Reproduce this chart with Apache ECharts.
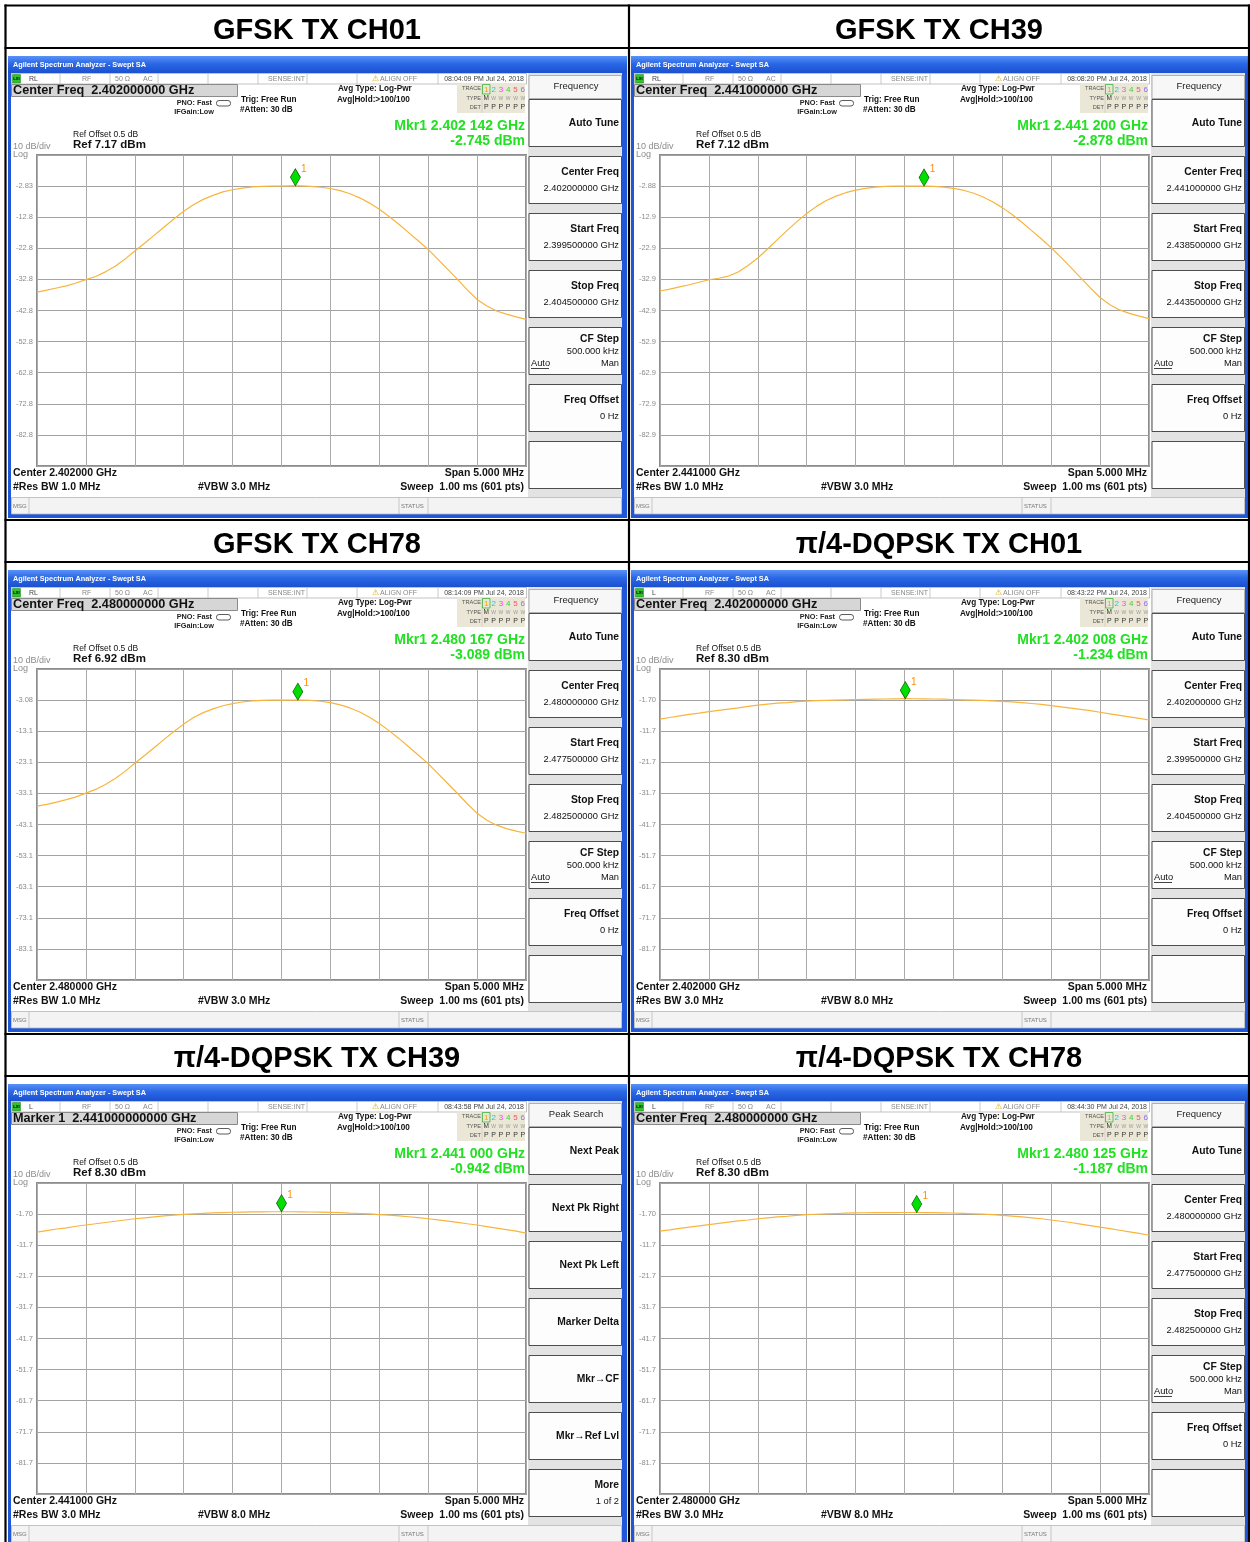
<!DOCTYPE html>
<html><head><meta charset="utf-8">
<script src="https://cdn.jsdelivr.net/npm/echarts@6/dist/echarts.min.js"></script>
<style>html,body{margin:0;padding:0;background:#fff}#c{width:1250px;height:1542px}</style>
</head><body><div id="c"></div>
<script>
// ---------- DATA ----------
const panelTitles = ['GFSK TX CH01','GFSK TX CH39','GFSK TX CH78','π/4-DQPSK TX CH01','π/4-DQPSK TX CH39','π/4-DQPSK TX CH78'];
const headerTexts = ['Center Freq  2.402000000 GHz','Center Freq  2.441000000 GHz','Center Freq  2.480000000 GHz','Center Freq  2.402000000 GHz','Marker 1  2.441000000000 GHz','Center Freq  2.480000000 GHz'];
const inputModes = ['RL','RL','RL','L','L','L'];
const timeStamps = ['08:04:09 PM Jul 24, 2018','08:08:20 PM Jul 24, 2018','08:14:09 PM Jul 24, 2018','08:43:22 PM Jul 24, 2018','08:43:58 PM Jul 24, 2018','08:44:30 PM Jul 24, 2018'];
const refLevels = [7.17, 7.12, 6.92, 8.30, 8.30, 8.30];
const refTexts = ['Ref 7.17 dBm','Ref 7.12 dBm','Ref 6.92 dBm','Ref 8.30 dBm','Ref 8.30 dBm','Ref 8.30 dBm'];
const yTicksGfskCh01 = ['-2.83','-12.8','-22.8','-32.8','-42.8','-52.8','-62.8','-72.8','-82.8'];
const yTicksGfskCh39 = ['-2.88','-12.9','-22.9','-32.9','-42.9','-52.9','-62.9','-72.9','-82.9'];
const yTicksGfskCh78 = ['-3.08','-13.1','-23.1','-33.1','-43.1','-53.1','-63.1','-73.1','-83.1'];
const yTicksDqpsk = ['-1.70','-11.7','-21.7','-31.7','-41.7','-51.7','-61.7','-71.7','-81.7'];
const markerTexts = ['Mkr1 2.402 142 GHz','Mkr1 2.441 200 GHz','Mkr1 2.480 167 GHz','Mkr1 2.402 008 GHz','Mkr1 2.441 000 GHz','Mkr1 2.480 125 GHz'];
const markerLevelTexts = ['-2.745 dBm','-2.878 dBm','-3.089 dBm','-1.234 dBm','-0.942 dBm','-1.187 dBm'];
const markerOffsetKHz = [2642, 2700, 2667, 2508, 2500, 2625];
const markerLevels = [-2.745, -2.878, -3.089, -1.234, -0.942, -1.187];
const centerTexts = ['Center 2.402000 GHz','Center 2.441000 GHz','Center 2.480000 GHz','Center 2.402000 GHz','Center 2.441000 GHz','Center 2.480000 GHz'];
const rbwTexts = ['#Res BW 1.0 MHz','#Res BW 1.0 MHz','#Res BW 1.0 MHz','#Res BW 3.0 MHz','#Res BW 3.0 MHz','#Res BW 3.0 MHz'];
const vbwTexts = ['#VBW 3.0 MHz','#VBW 3.0 MHz','#VBW 3.0 MHz','#VBW 8.0 MHz','#VBW 8.0 MHz','#VBW 8.0 MHz'];
const centerFreqKeys = ['2.402000000 GHz','2.441000000 GHz','2.480000000 GHz','2.402000000 GHz','2.441000000 GHz','2.480000000 GHz'];
const startFreqKeys = ['2.399500000 GHz','2.438500000 GHz','2.477500000 GHz','2.399500000 GHz','2.438500000 GHz','2.477500000 GHz'];
const stopFreqKeys = ['2.404500000 GHz','2.443500000 GHz','2.482500000 GHz','2.404500000 GHz','2.443500000 GHz','2.482500000 GHz'];
const spanKHz = 5000;
const traceStepKHz = 100;
// trace levels in dBm, one every 100 kHz from start to stop frequency
const trGfskCh01 = [-36.9,-36.3,-35.6,-34.9,-34.0,-32.9,-31.9,-30.4,-28.6,-26.3,-23.7,-21.2,-18.6,-16.0,-13.4,-10.9,-8.8,-7.1,-5.8,-4.7,-4.0,-3.5,-3.1,-2.95,-2.85,-2.8,-2.76,-2.75,-2.9,-3.2,-3.6,-4.3,-5.3,-6.6,-8.3,-10.3,-12.6,-15.1,-17.8,-20.5,-23.2,-26.4,-29.6,-32.8,-36.2,-39.3,-41.4,-43.0,-44.0,-44.9,-45.7];
const trGfskCh39 = [-36.6,-36.0,-35.3,-34.6,-33.8,-33.0,-32.5,-31.8,-30.5,-28.4,-26.0,-23.1,-20.1,-17.1,-14.3,-11.7,-9.4,-7.5,-6.1,-5.0,-4.2,-3.6,-3.2,-3.0,-2.92,-2.9,-2.88,-2.88,-2.95,-3.2,-3.6,-4.2,-5.1,-6.3,-7.9,-9.8,-12.0,-14.5,-17.2,-19.9,-22.7,-25.8,-29.0,-32.3,-35.6,-38.7,-41.0,-42.7,-43.8,-44.7,-45.5];
const trGfskCh78 = [-37.2,-36.6,-35.9,-35.1,-34.2,-33.0,-31.8,-30.2,-28.3,-26.0,-23.4,-20.9,-18.3,-15.7,-13.2,-10.8,-8.7,-7.1,-5.9,-4.9,-4.2,-3.7,-3.35,-3.2,-3.12,-3.1,-3.09,-3.09,-3.2,-3.45,-3.9,-4.6,-5.6,-6.9,-8.6,-10.6,-12.9,-15.4,-18.1,-20.8,-23.5,-26.7,-29.9,-33.1,-36.4,-39.5,-41.7,-43.3,-44.4,-45.2,-45.9];
const trDqpskCh01 = [-7.8,-7.3,-6.8,-6.3,-5.9,-5.4,-5.0,-4.6,-4.2,-3.7,-3.3,-3.0,-2.7,-2.5,-2.2,-2.0,-1.9,-1.8,-1.7,-1.6,-1.5,-1.45,-1.4,-1.35,-1.3,-1.24,-1.26,-1.3,-1.35,-1.4,-1.5,-1.6,-1.7,-1.8,-1.95,-2.1,-2.3,-2.5,-2.8,-3.1,-3.5,-3.9,-4.3,-4.7,-5.1,-5.6,-6.1,-6.6,-7.1,-7.6,-8.1];
const trDqpskCh39 = [-7.5,-7.0,-6.5,-6.1,-5.6,-5.2,-4.8,-4.4,-4.0,-3.6,-3.2,-2.9,-2.6,-2.3,-2.0,-1.8,-1.6,-1.45,-1.3,-1.2,-1.1,-1.05,-1.0,-0.97,-0.95,-0.94,-0.95,-0.98,-1.02,-1.08,-1.15,-1.25,-1.38,-1.5,-1.65,-1.85,-2.05,-2.3,-2.55,-2.85,-3.2,-3.55,-3.95,-4.35,-4.8,-5.2,-5.7,-6.2,-6.7,-7.2,-7.8];
const trDqpskCh78 = [-7.2,-6.8,-6.3,-5.9,-5.5,-5.1,-4.7,-4.3,-3.9,-3.6,-3.2,-2.9,-2.6,-2.4,-2.1,-1.9,-1.75,-1.6,-1.5,-1.4,-1.32,-1.27,-1.23,-1.21,-1.2,-1.19,-1.19,-1.2,-1.23,-1.28,-1.35,-1.45,-1.58,-1.72,-1.9,-2.1,-2.35,-2.6,-2.9,-3.2,-3.6,-4.0,-4.4,-4.9,-5.4,-5.9,-6.4,-6.9,-7.4,-7.9,-8.5];

const traces = [trGfskCh01, trGfskCh39, trGfskCh78, trDqpskCh01, trDqpskCh39, trDqpskCh78];
const yTickSets = [yTicksGfskCh01, yTicksGfskCh39, yTicksGfskCh78, yTicksDqpsk, yTicksDqpsk, yTicksDqpsk];

// ---------- LAYOUT ----------
const FONT = '"Liberation Sans", Arial, sans-serif';
const COLX = [8, 631];
const ROWY = [56, 570, 1084];
const TITLE_CX = [317, 939];
const TITLE_CY = [31, 545, 1059];
const traceColors = ['#ff9a00','#17c7f0','#ff3dff','#3ccf3c','#ff4c6e','#8a6cff'];

let zc = -400;
const els = [];
function R(x,y,w,h,fill,stroke,lw,r){ els.push({type:'rect', z:(zc+=0.5), silent:true, shape:{x:x,y:y,width:w,height:h,r:r||0}, style:{fill:fill||'none', stroke:stroke||null, lineWidth:lw||1}}); }
function L(x1,y1,x2,y2,stroke,lw,z){ els.push({type:'line', z:(z!=null?z:(zc+=0.5)), silent:true, shape:{x1:x1,y1:y1,x2:x2,y2:y2}, style:{stroke:stroke, lineWidth:lw||1}}); }
function T(x,y,text,size,color,align,bold){ els.push({type:'text', z:20, silent:true, x:x, y:y, style:{text:text, font:(bold?'bold ':'')+size+'px '+FONT, fill:color||'#000', textAlign:align||'left', textVerticalAlign:'middle'}}); }

function panel(i){
  const ox = COLX[i%2], oy = ROWY[Math.floor(i/2)];
  const r = (x,y,w,h,f,s,lw,rr)=>R(ox+x,oy+y,w,h,f,s,lw,rr);
  const l = (x1,y1,x2,y2,s,lw)=>L(ox+x1,oy+y1,ox+x2,oy+y2,s,lw);
  const t = (x,y,tx,sz,c,a,b)=>T(ox+x,oy+y,tx,sz,c,a,b);
  // window frame
  r(0,0,619,462,'#1f56da');
  els.push({type:'rect', z:(zc+=0.5), silent:true, shape:{x:ox,y:oy,width:619,height:17}, style:{fill:{type:'linear',x:0,y:0,x2:0,y2:1,colorStops:[{offset:0,color:'#5a92f8'},{offset:0.45,color:'#2a68e6'},{offset:1,color:'#1c50d0'}]}}});
  t(5,9,'Agilent Spectrum Analyzer - Swept SA',7.3,'#ffffff','left',true);
  r(3,17,611,441,'#ffffff');
  // status row
  r(3.5,17.5,515,10.5,'#ffffff','#b4b4b4',0.8);
  [52,102,150,200,250,299,349,430].forEach(x=>l(x,17.5,x,28,'#bdbdbd',0.8));
  r(4.5,18.5,8,8.5,'#2fc22f','#1a7a1a',0.5);
  t(8.5,23,'LXI',4.2,'#000','center',true);
  t(21,22.8,inputModes[i],7,'#444');
  t(74,22.8,'RF',7,'#888');
  t(107,22.8,'50 Ω',7,'#888');
  t(135,22.8,'AC',7,'#888');
  t(297,22.8,'SENSE:INT',7,'#888','right');
  t(364,22.5,'⚠',8,'#d9a400');
  t(372,22.8,'ALIGN OFF',7,'#888');
  t(516,22.8,timeStamps[i],7,'#444','right');
  // header box
  r(3.5,28.5,226,12,'#d6d6d6','#8a8a8a',1);
  t(5,34.8,headerTexts[i],12.7,'#111','left',true);
  t(204,47,'PNO: Fast',7.3,'#222','right',true);
  t(206,56,'IFGain:Low',7.3,'#222','right',true);
  r(208.5,44.5,14,5.5,'none','#333',0.8,2.5);
  t(233,44,'Trig: Free Run',8.2,'#111','left',true);
  t(232,54,'#Atten: 30 dB',8.2,'#111','left',true);
  t(330,33,'Avg Type: Log-Pwr',8.2,'#111','left',true);
  t(329,43.5,'Avg|Hold:>100/100',8.2,'#111','left',true);
  // trace table
  r(449,27.5,68,29.5,'#ebe7d6');
  l(474,27.5,474,57,'#d0ccbc',0.8);
  t(473,32.5,'TRACE',5.6,'#555','right');
  t(473,42,'TYPE',5.6,'#555','right');
  t(473,51,'DET',5.6,'#555','right');
  r(474.5,28.5,7.5,9.5,'none','#3cb43c',0.8);
  for(let k=0;k<6;k++){
    t(478.3+k*7.3,33.3,String(k+1),8,traceColors[k],'center');
    t(478.3+k*7.3,42.3,k===0?'M':'W',k===0?6.5:5,k===0?'#333':'#999','center');
    t(478.3+k*7.3,51.3,'P',7,'#333','center');
  }
  // marker readout
  t(517,70.5,markerTexts[i],14,'#22e022','right',true);
  t(517,85,markerLevelTexts[i],14,'#22e022','right',true);
  t(65,78.5,'Ref Offset 0.5 dB',8.5,'#111');
  t(65,89.3,refTexts[i],11.5,'#111','left',true);
  t(5,90.5,'10 dB/div',9,'#8c8c8c');
  t(5,98.5,'Log',9,'#8c8c8c');
  // bottom annotations
  t(5,417.5,centerTexts[i],10.5,'#111','left',true);
  t(5,431.5,rbwTexts[i],10.5,'#111','left',true);
  t(190,431.5,vbwTexts[i],10.5,'#111','left',true);
  t(516,417.5,'Span 5.000 MHz',10.5,'#111','right',true);
  t(516,431.5,'Sweep  1.00 ms (601 pts)',10.5,'#111','right',true);
  // msg bar
  r(3.5,441.5,610,16.5,'#f3f3f3','#b5b5b5',0.8);
  [21,391,420].forEach(x=>l(x,441.5,x,458,'#bbbbbb',0.8));
  t(5,450,'MSG',6,'#777');
  t(393,450,'STATUS',6,'#777');
  // softkeys
  r(520,17,94,424,'#e3e3e3');
  r(521,19.5,92.5,23,'#f7f7f7','#a0a0a0',0.8);
  const peak = (i===4);
  t(568,30.5,peak?'Peak Search':'Frequency',9.5,'#222','center');
  const keys = peak ? [
    {a:'Next Peak'},{a:'Next Pk Right'},{a:'Next Pk Left'},{a:'Marker Delta'},{a:'Mkr→CF'},{a:'Mkr→Ref Lvl'},{a:'More',b:'1 of 2'}
  ] : [
    {a:'Auto Tune'},{a:'Center Freq',b:centerFreqKeys[i]},{a:'Start Freq',b:startFreqKeys[i]},{a:'Stop Freq',b:stopFreqKeys[i]},{a:'CF Step',b:'500.000 kHz',c:true},{a:'Freq Offset',b:'0 Hz'},{}
  ];
  keys.forEach((kk,k)=>{
    const top = 43 + 57*k;
    r(521,top+0.5,92.5,47,'#fdfdfd','#4d4d4d',1);
    if(!kk.a) return;
    if(kk.c){
      t(611,top+12.5,kk.a,10.3,'#111','right',true);
      t(611,top+24.5,kk.b,9.3,'#111','right');
      t(523,top+36.5,'Auto',9.3,'#111','left');
      l(523,top+41.5,541,top+41.5,'#111',0.8);
      t(611,top+36.5,'Man',9.3,'#111','right');
    } else if(kk.b){
      t(611,top+16.5,kk.a,10.3,'#111','right',true);
      t(611,top+32.5,kk.b,9.3,'#111','right');
    } else {
      t(611,top+24,kk.a,10.3,'#111','right',true);
    }
  });
  return {ox:ox, oy:oy};
}

const grids=[], xAxes=[], yAxes=[], series=[];
for(let i=0;i<6;i++){
  const o = panel(i);
  const ref = refLevels[i];
  const ticks = yTickSets[i];
  grids.push({left:o.ox+29, top:o.oy+99, width:489, height:311, show:true, borderColor:'#8d8d8d', borderWidth:2, backgroundColor:'transparent'});
  xAxes.push({type:'value', gridIndex:i, min:0, max:spanKHz, interval:500, axisLabel:{show:false}, axisTick:{show:false}, axisLine:{show:false},
    splitLine:{show:true, lineStyle:{color:'#ababab', width:1}}});
  yAxes.push({type:'value', gridIndex:i, min:ref-100, max:ref, interval:10, axisTick:{show:false}, axisLine:{show:false},
    splitLine:{show:true, lineStyle:{color:'#a2a2a2', width:1.2}},
    axisLabel:{show:true, margin:4, color:'#8c8c8c', fontSize:7.5, fontFamily:FONT,
      formatter:function(v){ const k=Math.round((ref-v)/10); return (k>=1&&k<=9)?ticks[k-1]:''; }}});
  series.push({type:'line', xAxisIndex:i, yAxisIndex:i, symbol:'none', showSymbol:false, silent:true, animation:false,
    data: traces[i].map((v,k)=>[k*traceStepKHz, v]),
    lineStyle:{color:'#f8b43c', width:1.2},
    markPoint:{symbol:'diamond', symbolSize:[10,17], symbolOffset:[0,'-50%'], silent:true, animation:false,
      itemStyle:{color:'#00e000', borderColor:'#0a6a0a', borderWidth:0.8},
      label:{show:true, formatter:'1', position:[11,-4], color:'#ff9000', fontSize:10, fontFamily:FONT},
      data:[{coord:[markerOffsetKHz[i], markerLevels[i]]}]}});
}
// table lines and titles
[5.5,48,520,562,1034,1076].forEach(y=>L(4.5,y,1250,y,'#000',2.2,30));
[5.5,629,1249].forEach(x=>L(x,4.5,x,1542,'#000',2.2,30));
for(let i=0;i<6;i++){
  T(TITLE_CX[i%2], TITLE_CY[Math.floor(i/2)], panelTitles[i], 29, '#000', 'center', true);
}

const chart = echarts.init(document.getElementById('c'), null, {renderer:'canvas'});
chart.setOption({animation:false, backgroundColor:'#ffffff', grid:grids, xAxis:xAxes, yAxis:yAxes, series:series, graphic:{elements:els}});
</script></body></html>
